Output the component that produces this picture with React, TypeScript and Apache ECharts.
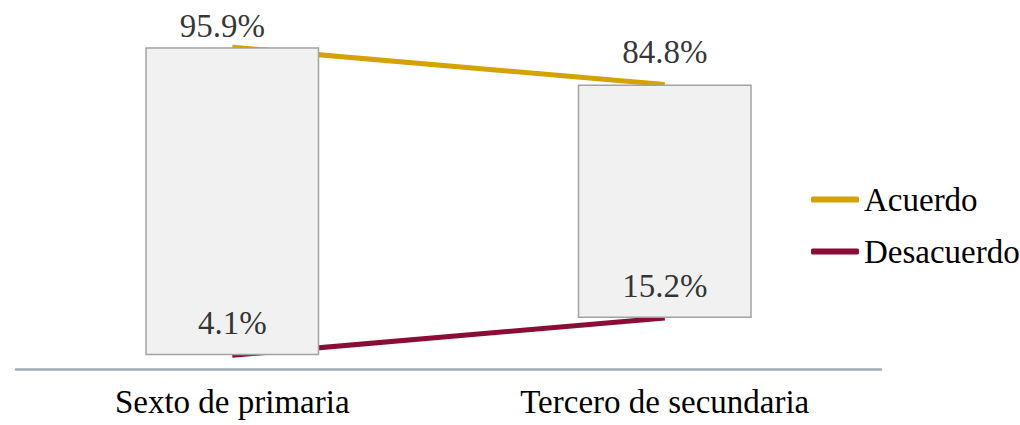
import React, { useEffect, useRef } from "react";
import * as echarts from "echarts";

const categories = ["Sexto de primaria", "Tercero de secundaria"];
const acuerdo = [95.9, 84.8];
const desacuerdo = [4.1, 15.2];
const seriesNames = ["Acuerdo", "Desacuerdo"];

const FONT = "'Liberation Serif', 'Times New Roman', serif";
const GOLD = "#D5A300";
const MAROON = "#8A0D35";

export default function App() {
  const ref = useRef<HTMLDivElement>(null);
  useEffect(() => {
    if (!ref.current) return;
    const chart = echarts.init(ref.current, null, { renderer: "svg" });
    const low = acuerdo.map((a, i) => Math.min(a, desacuerdo[i]));
    const span = acuerdo.map((a, i) => Math.abs(a - desacuerdo[i]));
    const labelStyle = {
      show: true,
      position: "top",
      distance: 16,
      fontFamily: FONT,
      fontSize: 33,
      color: "#000",
      formatter: (p: any) => `${Number(p.value).toFixed(1)}%`,
    };
    chart.setOption({
      animation: false,
      backgroundColor: "#fff",
      grid: { left: 16, right: 139, top: 33.5, bottom: 56 },
      xAxis: {
        type: "category",
        data: categories,
        axisLine: { show: true, lineStyle: { color: "#a3abb7", width: 2.5 } },
        axisTick: { show: false },
        axisLabel: { fontFamily: FONT, fontSize: 33, color: "#000", margin: 16 },
      },
      yAxis: { type: "value", min: 0, max: 100, show: false, splitLine: { show: false } },
      legend: {
        data: seriesNames,
        orient: "vertical",
        left: 806,
        top: 178,
        itemWidth: 48,
        itemHeight: 6,
        itemGap: 19,
        icon: "roundRect",
        textStyle: { fontFamily: FONT, fontSize: 33, color: "#000" },
      },
      series: [
        {
          name: seriesNames[0],
          type: "line",
          data: acuerdo,
          symbol: "none",
          z: 1,
          color: GOLD,
          lineStyle: { color: GOLD, width: 5 },
        },
        {
          name: seriesNames[1],
          type: "line",
          data: desacuerdo,
          symbol: "none",
          z: 1,
          color: MAROON,
          lineStyle: { color: MAROON, width: 5 },
        },
        {
          name: "base",
          type: "bar",
          stack: "box",
          data: low,
          barWidth: 174,
          itemStyle: { color: "transparent" },
          z: 2,
          silent: true,
        },
        {
          name: "range",
          type: "bar",
          stack: "box",
          data: span,
          barWidth: 174,
          itemStyle: { color: "#f1f1f1", borderColor: "#a2a2a2", borderWidth: 1.5 },
          z: 2,
          silent: true,
        },
        {
          name: "lblA",
          type: "scatter",
          symbolSize: 0,
          z: 5,
          data: acuerdo.map((v, i) =>
            i === 0 ? { value: v, label: { offset: [-10, 11] } } : v
          ),
          label: labelStyle,
        },
        {
          name: "lblD",
          type: "scatter",
          symbolSize: 0,
          z: 5,
          data: desacuerdo,
          label: labelStyle,
        },
      ],
    });
    return () => chart.dispose();
  }, []);
  return <div ref={ref} style={{ width: 1020, height: 425, position: "absolute", left: 0, top: 0 }} />;
}
